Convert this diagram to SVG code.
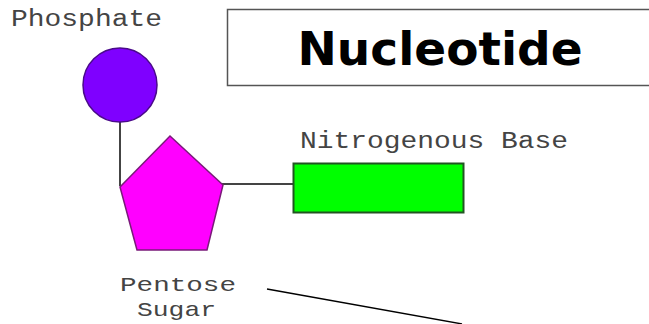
<svg xmlns="http://www.w3.org/2000/svg" width="649" height="324" viewBox="0 0 649 324">
<style>
.lbl{font-family:"Liberation Mono","DejaVu Sans Mono",monospace;font-size:23px;fill:#444}
.sm{font-size:21px}
.conn{stroke:#444;stroke-width:2;fill:none}
</style>
<rect width="649" height="324" fill="#fff"/>
<g id="title">
<rect x="227.5" y="9.5" width="440" height="76" fill="#fff" stroke="#555" stroke-width="1.5"/>
<text x="440" y="65" text-anchor="middle" font-family="DejaVu Sans, sans-serif" font-weight="bold" font-size="47" fill="#000">Nucleotide</text>
</g>
<g id="connectors">
<line class="conn" x1="120" y1="122" x2="120" y2="186"/>
<line class="conn" x1="222" y1="184" x2="293" y2="184"/>
<line x1="267" y1="289" x2="462" y2="324" stroke="#000" stroke-width="1.3"/>
</g>
<g id="phosphate">
<circle cx="120" cy="85" r="37" fill="#7f00ff" stroke="#4a0a8a" stroke-width="1.5"/>
<text class="lbl" x="11" y="26" textLength="151" lengthAdjust="spacingAndGlyphs">Phosphate</text>
</g>
<g id="sugar">
<polygon points="170,136 223,185 207,250 137,250 120,187" fill="#ff00ff" stroke="#7a1a7a" stroke-width="1.5"/>
<text class="lbl sm" x="120" y="291" textLength="116" lengthAdjust="spacingAndGlyphs">Pentose</text>
<text class="lbl sm" x="137" y="316" textLength="79" lengthAdjust="spacingAndGlyphs">Sugar</text>
</g>
<g id="base">
<rect x="293.5" y="163.5" width="170" height="49" fill="#00ff00" stroke="#225522" stroke-width="2"/>
<text class="lbl" x="300" y="148" textLength="268" lengthAdjust="spacingAndGlyphs">Nitrogenous Base</text>
</g>
</svg>
